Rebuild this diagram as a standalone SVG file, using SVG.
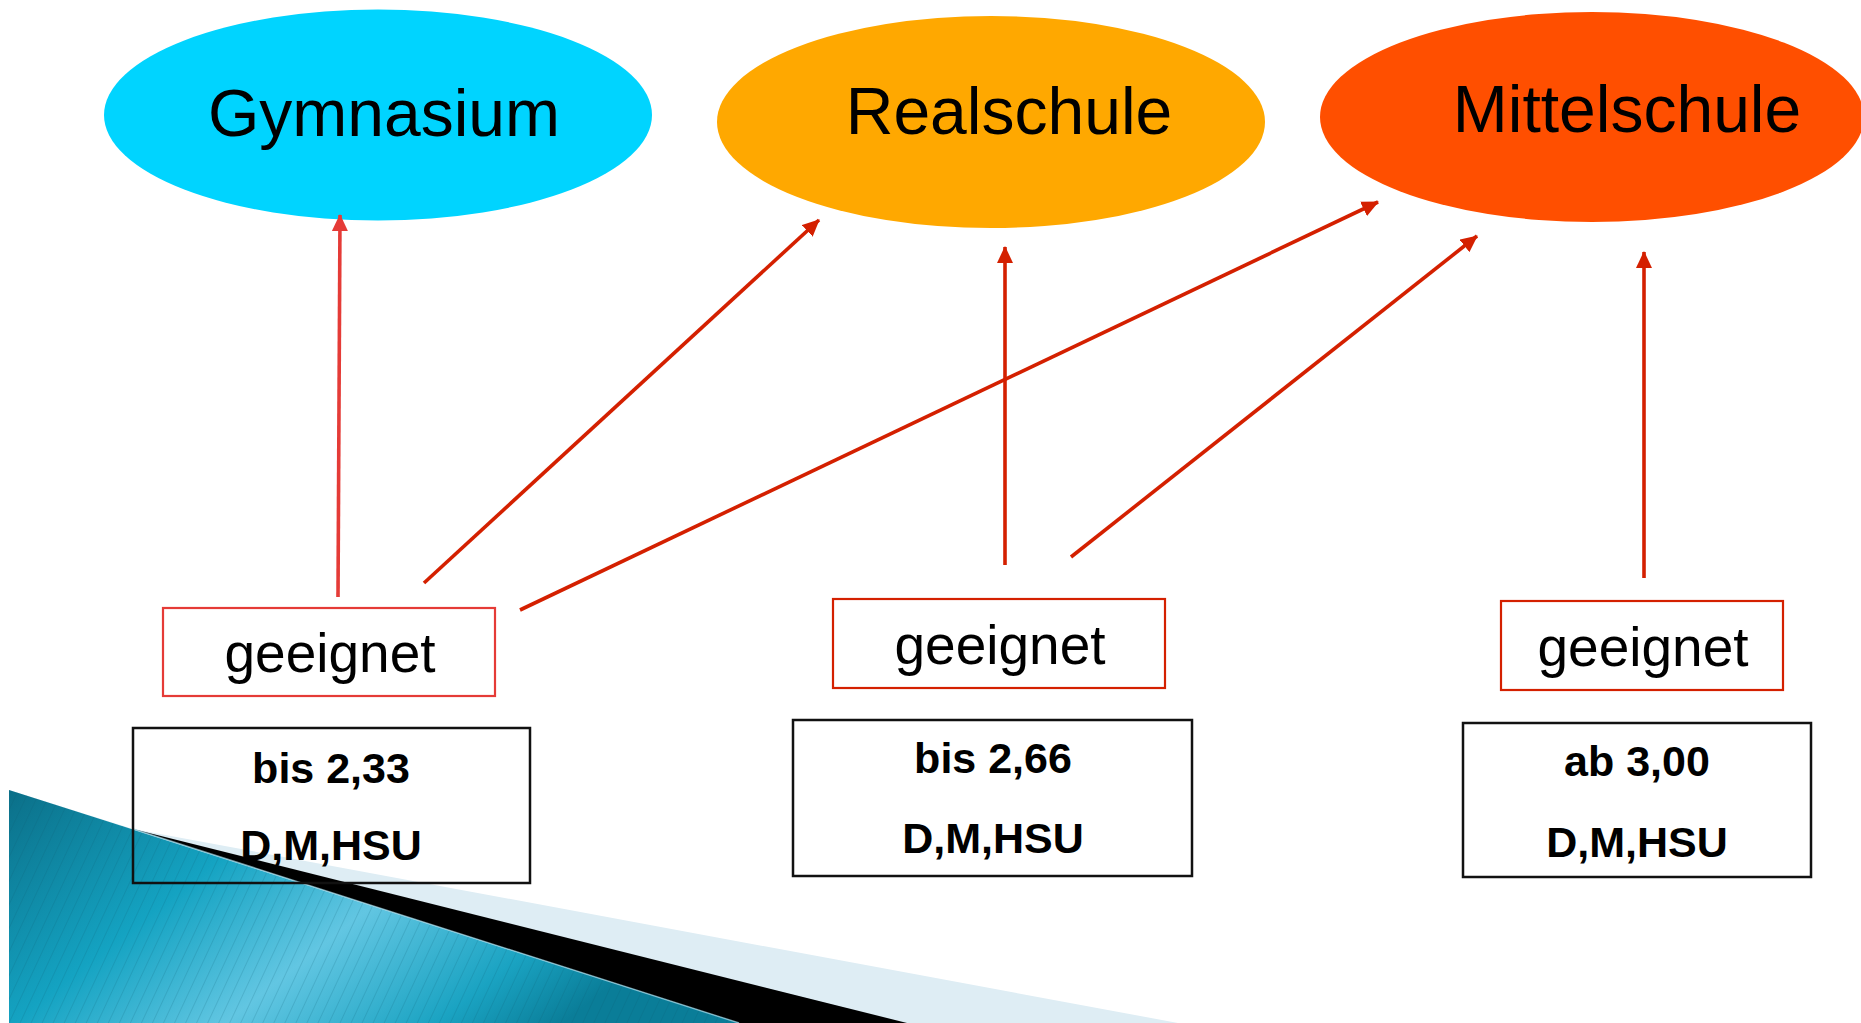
<svg xmlns="http://www.w3.org/2000/svg" width="1861" height="1023" viewBox="0 0 1861 1023">
  <style>
    .title { font-family: "Liberation Sans", Arial, sans-serif; font-size: 66px; fill: #000; text-anchor: middle; }
    .geeig { font-family: "Liberation Sans", Arial, sans-serif; font-size: 55px; fill: #000; text-anchor: middle; }
    .crit { font-family: "Liberation Sans", Arial, sans-serif; font-size: 43px; font-weight: bold; fill: #000; text-anchor: middle; }
    .gbox { fill: #fff; stroke-width: 2.2; }
    .cbox { fill: none; stroke: #111; stroke-width: 2.5; }
    .conn { fill: none; stroke-width: 3.6; }
  </style>
  <defs>
    <linearGradient id="teal" x1="0" y1="0" x2="1" y2="0.4">
      <stop offset="0" stop-color="#0b6f88"/>
      <stop offset="0.35" stop-color="#14a3c2"/>
      <stop offset="0.6" stop-color="#62c6e2"/>
      <stop offset="0.85" stop-color="#1aa3c2"/>
      <stop offset="1" stop-color="#0a7d98"/>
    </linearGradient>
    <pattern id="hatch" patternUnits="userSpaceOnUse" width="10" height="10" patternTransform="rotate(25)">
      <line x1="0" y1="0" x2="0" y2="10" stroke="#0a5a70" stroke-width="1" stroke-opacity="0.35"/>
    </pattern>
    <marker id="ahL" markerUnits="userSpaceOnUse" viewBox="0 0 17 16" refX="16" refY="8" markerWidth="17" markerHeight="16" orient="auto">
      <path d="M0,0 L17,8 L0,16 Z" fill="#e53b37"/>
    </marker>
    <marker id="ahD" markerUnits="userSpaceOnUse" viewBox="0 0 17 16" refX="16" refY="8" markerWidth="17" markerHeight="16" orient="auto">
      <path d="M0,0 L17,8 L0,16 Z" fill="#d42000"/>
    </marker>
  </defs>

  <g id="decoration">
    <polygon points="9,790 133,829 1178,1023 9,1023" fill="#deedf4"/>
    <polygon points="133,829 907,1023 739,1023" fill="#000"/>
    <polygon points="9,790 739,1023 9,1023" fill="url(#teal)"/>
    <polygon points="9,790 739,1023 9,1023" fill="url(#hatch)"/>
    <line x1="133" y1="829" x2="739" y2="1023" stroke="#9fd6e6" stroke-width="1.5" stroke-opacity="0.7"/>
  </g>

  <g id="gymnasium">
    <ellipse cx="378" cy="115" rx="274" ry="105.5" fill="#00d4ff"/>
    <text class="title" x="384" y="136">Gymnasium</text>
  </g>
  <g id="realschule">
    <ellipse cx="991" cy="122" rx="274" ry="106" fill="#ffa800"/>
    <text class="title" x="1009" y="134">Realschule</text>
  </g>
  <g id="mittelschule">
    <ellipse cx="1592" cy="117" rx="272" ry="105" fill="#ff4f00"/>
    <text class="title" x="1627" y="132">Mittelschule</text>
  </g>

  <g id="geeignet1">
    <rect class="gbox" x="163" y="608" width="332" height="88" stroke="#e53b37"/>
    <text class="geeig" x="330" y="672">geeignet</text>
  </g>
  <g id="geeignet2">
    <rect class="gbox" x="833" y="599" width="332" height="89" stroke="#d42000"/>
    <text class="geeig" x="1000" y="664">geeignet</text>
  </g>
  <g id="geeignet3">
    <rect class="gbox" x="1501" y="601" width="282" height="89" stroke="#d42000"/>
    <text class="geeig" x="1643" y="666">geeignet</text>
  </g>

  <g id="crit1">
    <rect class="cbox" x="133" y="728" width="397" height="155"/>
    <text class="crit" x="331" y="783">bis 2,33</text>
    <text class="crit" x="331" y="860">D,M,HSU</text>
  </g>
  <g id="crit2">
    <rect class="cbox" x="793" y="720" width="399" height="156"/>
    <text class="crit" x="993" y="773">bis 2,66</text>
    <text class="crit" x="993" y="853">D,M,HSU</text>
  </g>
  <g id="crit3">
    <rect class="cbox" x="1463" y="723" width="348" height="154"/>
    <text class="crit" x="1637" y="776">ab 3,00</text>
    <text class="crit" x="1637" y="857">D,M,HSU</text>
  </g>

  <g id="connectors">
    <line class="conn" x1="338" y1="597" x2="340" y2="215" stroke="#e53b37" marker-end="url(#ahL)"/>
    <line class="conn" x1="424" y1="583" x2="819" y2="220" stroke="#d42000" marker-end="url(#ahD)"/>
    <line class="conn" x1="520" y1="610" x2="1378" y2="202" stroke="#d42000" marker-end="url(#ahD)"/>
    <line class="conn" x1="1005" y1="565" x2="1005" y2="247" stroke="#d42000" marker-end="url(#ahD)"/>
    <line class="conn" x1="1071" y1="557" x2="1477" y2="236" stroke="#d42000" marker-end="url(#ahD)"/>
    <line class="conn" x1="1644" y1="578" x2="1644" y2="252" stroke="#d42000" marker-end="url(#ahD)"/>
  </g>
</svg>
